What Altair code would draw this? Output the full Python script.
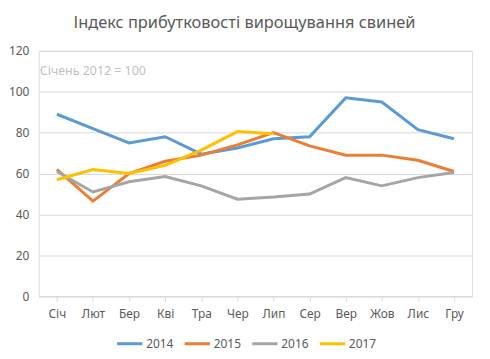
import altair as alt
import pandas as pd

months = ["Січ", "Лют", "Бер", "Кві", "Тра", "Чер", "Лип", "Сер", "Вер", "Жов", "Лис", "Гру"]
y2014 = [89, 82, 75, 78, 69.5, 72.5, 77, 78, 97, 95, 81.5, 77]
y2015 = [62, 46.5, 60, 66, 69, 74, 80, 73.5, 69, 69, 66.5, 61]
y2016 = [61, 51, 56, 58.5, 54, 47.5, 48.5, 50, 58, 54, 58, 60.5]
y2017 = [57, 62, 60, 64, 71.5, 80.5, 79.5, None, None, None, None, None]
series = {"2014": y2014, "2015": y2015, "2016": y2016, "2017": y2017}
colors = ["#5B9BD5", "#ED7D31", "#A5A5A5", "#FFC000"]

rows = []
for name, vals in series.items():
    for m, v in zip(months, vals):
        if v is not None:
            rows.append({"month": m, "year": name, "value": v})
df = pd.DataFrame(rows)

FONT = "Noto Sans"
W, H = 436, 247

lines = alt.Chart(df).mark_line(strokeWidth=3).encode(
    x=alt.X("month:N", sort=months, title=None,
            scale=alt.Scale(paddingInner=0, paddingOuter=0),
            axis=alt.Axis(labelAngle=0, bandPosition=0, domainColor="#D9D9D9",
                          tickColor="#D9D9D9", tickSize=5, labelColor="#595959",
                          labelFontSize=12, labelFont=FONT, labelPadding=7, grid=False)),
    y=alt.Y("value:Q", title=None,
            scale=alt.Scale(domain=[0, 120], nice=False),
            axis=alt.Axis(values=[0, 20, 40, 60, 80, 100, 120], domain=False, ticks=False,
                          gridColor="#D9D9D9", labelColor="#595959", labelFontSize=12,
                          labelFont=FONT, labelPadding=10)),
    color=alt.Color("year:N", scale=alt.Scale(domain=list(series.keys()), range=colors),
                    legend=alt.Legend(title=None, orient="none", direction="horizontal",
                                      legendX=77, legendY=280, symbolType="stroke",
                                      symbolStrokeWidth=3, symbolSize=650,
                                      labelFont=FONT, labelFontSize=12, labelColor="#595959",
                                      columnPadding=4, labelOffset=2, symbolOffset=0,
                                      labelLimit=60)),
)

title = alt.Chart(pd.DataFrame({"t": ["Індекс прибутковості вирощування свиней"]})).mark_text(
    font=FONT, fontSize=16.5, color="#595959", align="center", baseline="middle"
).encode(text="t:N", x=alt.value(207), y=alt.value(-28))

note = alt.Chart(pd.DataFrame({"t": ["Січень 2012 = 100"]})).mark_text(
    font=FONT, fontSize=12.5, color="#BFBFBF", align="left", baseline="middle"
).encode(text="t:N", x=alt.value(1), y=alt.value(20))

chart = alt.layer(lines, title, note).properties(
    width=W, height=H,
    autosize=alt.AutoSizeParams(type="none"),
    padding={"left": 31, "top": 42, "right": 10, "bottom": 60},
).configure_view(stroke=None).configure(background="white")

chart.save("out.html", embed_options={"renderer": "svg", "actions": False})
